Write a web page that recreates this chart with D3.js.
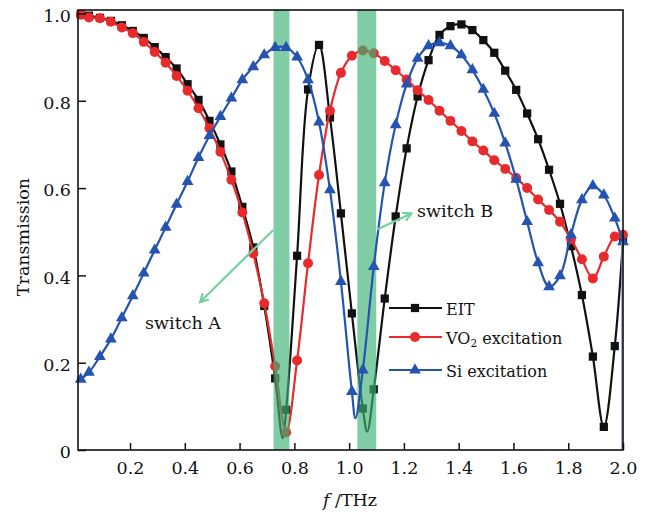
<!DOCTYPE html>
<html>
<head>
<meta charset="utf-8">
<script src="https://cdn.jsdelivr.net/npm/d3@7"></script>
<style>
  body { margin: 0; background: #fff; }
  svg { display: block; font-family: "DejaVu Serif", serif; }
</style>
</head>
<body>
<svg id="chart" width="651" height="517"></svg>
<script>
/* -------------------------------------------------------------------------- */
// data (f in THz, transmission)
const freq = [0.02, 0.05, 0.09, 0.13, 0.17, 0.21, 0.25, 0.29, 0.33, 0.37,
  0.41, 0.45, 0.49, 0.53, 0.57, 0.61, 0.65, 0.69, 0.73, 0.77,
  0.81, 0.85, 0.89, 0.93, 0.97, 1.01, 1.05, 1.09, 1.13, 1.17,
  1.21, 1.25, 1.29, 1.33, 1.37, 1.41, 1.45, 1.49, 1.53, 1.57,
  1.61, 1.65, 1.69, 1.73, 1.77, 1.81, 1.85, 1.89, 1.93, 1.97, 2.0];

const eit = [0.998, 0.995, 0.99, 0.983, 0.973, 0.96, 0.944, 0.923, 0.90, 0.874,
  0.838, 0.802, 0.754, 0.70, 0.638, 0.557, 0.464, 0.33, 0.164, 0.092,
  0.445, 0.826, 0.928, 0.762, 0.542, 0.313, 0.095, 0.139, 0.347, 0.535,
  0.691, 0.81, 0.893, 0.951, 0.971, 0.975, 0.962, 0.939, 0.91, 0.869,
  0.825, 0.771, 0.712, 0.642, 0.564, 0.467, 0.355, 0.214, 0.053, 0.238, 0.481];

const vo2 = [0.997, 0.991, 0.989, 0.981, 0.968, 0.955, 0.935, 0.912, 0.887, 0.857,
  0.823, 0.783, 0.737, 0.683, 0.619, 0.544, 0.45, 0.336, 0.192, 0.04,
  0.205, 0.428, 0.63, 0.777, 0.864, 0.903, 0.915, 0.909, 0.891, 0.87,
  0.849, 0.824, 0.802, 0.777, 0.754, 0.731, 0.707, 0.686, 0.664, 0.644,
  0.623, 0.6, 0.574, 0.55, 0.523, 0.483, 0.437, 0.393, 0.443, 0.489, 0.493];

const si = [0.162, 0.178, 0.214, 0.254, 0.303, 0.353, 0.405, 0.458, 0.51, 0.563,
  0.615, 0.670, 0.72, 0.764, 0.806, 0.848, 0.878, 0.905, 0.922, 0.922,
  0.90, 0.848, 0.751, 0.596, 0.386, 0.134, 0.183, 0.42, 0.612, 0.745,
  0.838, 0.897, 0.926, 0.933, 0.926, 0.905, 0.871, 0.826, 0.771, 0.703,
  0.62, 0.523, 0.429, 0.374, 0.399, 0.493, 0.573, 0.605, 0.584, 0.531, 0.477];

// unmarked dips of the curves, between markers
const eitDips = [[0.757, 0.027], [1.066, 0.042]];
const siDips = [[1.023, 0.073]];

// highlighted switching bands [from, to]
const bands = [[0.724, 0.782], [1.030, 1.099]];

const xTicks = [0.2, 0.4, 0.6, 0.8, 1.0, 1.2, 1.4, 1.6, 1.8, 2.0];
const yTicks = [0, 0.2, 0.4, 0.6, 0.8, 1.0];

/* -------------------------------------------------------------------------- */
const svg = d3.select('#chart');
const m = {left: 78, right: 623, top: 10, bottom: 450};

const x = d3.scaleLinear().domain([0.01, 2.0]).range([m.left, m.right]);
const y = d3.scaleLinear().domain([0, 1.008]).range([m.bottom, m.top]);

const series = [
  { name: 'EIT', vals: eit, dips: eitDips, col: '#111111', sym: d3.symbolSquare, size: 68 },
  { name: 'VO2', vals: vo2, dips: [], col: '#e82a2c', sym: d3.symbolCircle, size: 78 },
  { name: 'Si', vals: si, dips: siDips, col: '#2453b0', sym: d3.symbolTriangle, size: 60 }
];

const line = d3.line()
  .x(d => x(d[0]))
  .y(d => y(d[1]))
  .curve(d3.curveCatmullRom.alpha(0.5));

function draw_series(s) {
  let pts = freq.map((f, i) => [f, s.vals[i]]);
  let all = pts.concat(s.dips).sort((a, b) => a[0] - b[0]);
  let g = svg.append('g');
  g.append('path')
    .attr('d', line(all))
    .attr('fill', 'none')
    .attr('stroke', s.col)
    .attr('stroke-width', 2.2);
  g.selectAll('path.mk')
    .data(pts)
    .enter()
    .append('path')
    .attr('class', 'mk')
    .attr('d', d3.symbol().type(s.sym).size(s.size))
    .attr('transform', d => `translate(${x(d[0])},${y(d[1])})`)
    .attr('fill', s.col);
}

// EIT and VO2 sit under the bands, Si on top
draw_series(series[0]);
draw_series(series[1]);

svg.append('g').selectAll('rect')
  .data(bands)
  .enter()
  .append('rect')
  .attr('x', d => x(d[0]))
  .attr('width', d => x(d[1]) - x(d[0]))
  .attr('y', m.top)
  .attr('height', m.bottom - m.top)
  .attr('fill', '#3db276')
  .attr('opacity', 0.66);

draw_series(series[2]);

// drop at the right edge
svg.append('line')
  .attr('x1', x(2.0) - 1).attr('x2', x(2.0) - 1)
  .attr('y1', y(si[si.length - 1])).attr('y2', y(0))
  .attr('stroke', '#8a93d6')
  .attr('stroke-width', 1.5);

/* -------------------------------------------------------------------------- */
// axes
const xAxis = d3.axisBottom(x).tickValues(xTicks).tickSizeInner(-7).tickSizeOuter(0)
  .tickPadding(12).tickFormat(d3.format('.1f'));
const yAxis = d3.axisLeft(y).tickValues(yTicks).tickSizeInner(-8).tickSizeOuter(0)
  .tickPadding(7).tickFormat(d => d === 0 ? '0' : d3.format('.1f')(d));

let gx = svg.append('g').attr('transform', `translate(0,${m.bottom})`).call(xAxis);
let gy = svg.append('g').attr('transform', `translate(${m.left},0)`).call(yAxis);

[gx, gy].forEach(g => {
  g.select('.domain').remove();
  g.selectAll('line').attr('stroke', '#111').attr('stroke-width', 1.5);
  g.selectAll('text').attr('font-size', 17.5).attr('fill', '#111')
    .attr('font-family', '"DejaVu Serif", serif');
});
gy.selectAll('text').attr('dy', '0.45em');

// frame
svg.append('rect')
  .attr('x', m.left).attr('y', m.top)
  .attr('width', m.right - m.left).attr('height', m.bottom - m.top)
  .attr('fill', 'none')
  .attr('stroke', '#111')
  .attr('stroke-width', 1.6);

// axis titles
let xl = svg.append('text')
  .attr('x', 350).attr('y', 506)
  .attr('text-anchor', 'middle')
  .attr('font-size', 17.5)
  .attr('fill', '#111');
xl.append('tspan').attr('font-style', 'italic').text('f');
xl.append('tspan').text(' /THz');

svg.append('text')
  .attr('transform', 'translate(29,237) rotate(-90)')
  .attr('text-anchor', 'middle')
  .attr('font-size', 17.5)
  .attr('fill', '#111')
  .text('Transmission');

/* -------------------------------------------------------------------------- */
// switch annotations
const arrowCol = '#74cf9e';

function arrow(f0, t0, f1, t1) {
  let x0 = x(f0), y0 = y(t0), x1 = x(f1), y1 = y(t1);
  let a = Math.atan2(y1 - y0, x1 - x0);
  let h = 9;
  svg.append('line')
    .attr('x1', x0).attr('y1', y0).attr('x2', x1).attr('y2', y1)
    .attr('stroke', arrowCol).attr('stroke-width', 2.2);
  let p = [
    [x1 - h * Math.cos(a - 0.5), y1 - h * Math.sin(a - 0.5)],
    [x1, y1],
    [x1 - h * Math.cos(a + 0.5), y1 - h * Math.sin(a + 0.5)]
  ];
  svg.append('path')
    .attr('d', d3.line()(p))
    .attr('fill', 'none')
    .attr('stroke', arrowCol).attr('stroke-width', 2.2);
}

arrow(0.723, 0.504, 0.456, 0.339);
arrow(1.102, 0.505, 1.227, 0.542);

svg.append('text')
  .attr('x', x(0.255)).attr('y', y(0.277))
  .attr('font-size', 17.5).attr('fill', '#111')
  .text('switch A');
svg.append('text')
  .attr('x', x(1.248)).attr('y', y(0.534))
  .attr('font-size', 17.5).attr('fill', '#111')
  .text('switch B');

/* -------------------------------------------------------------------------- */
// legend
const legRows = [308, 337, 370];
let leg = svg.append('g');
series.forEach((s, i) => {
  let ly = legRows[i];
  leg.append('line')
    .attr('x1', 389).attr('x2', 442).attr('y1', ly).attr('y2', ly)
    .attr('stroke', s.col).attr('stroke-width', 2.2);
  leg.append('path')
    .attr('d', d3.symbol().type(s.sym).size(s.size))
    .attr('transform', `translate(415,${ly})`)
    .attr('fill', s.col);
  let t = leg.append('text')
    .attr('x', 446).attr('y', ly + 7)
    .attr('font-size', 16).attr('fill', '#111');
  if (s.name === 'VO2') {
    t.append('tspan').text('VO');
    t.append('tspan').attr('font-size', 10.5).attr('dy', 3).text('2');
    t.append('tspan').attr('dy', -3).text(' excitation');
  } else if (s.name === 'Si') {
    t.text('Si excitation');
  } else {
    t.text('EIT');
  }
});
</script>
</body>
</html>
